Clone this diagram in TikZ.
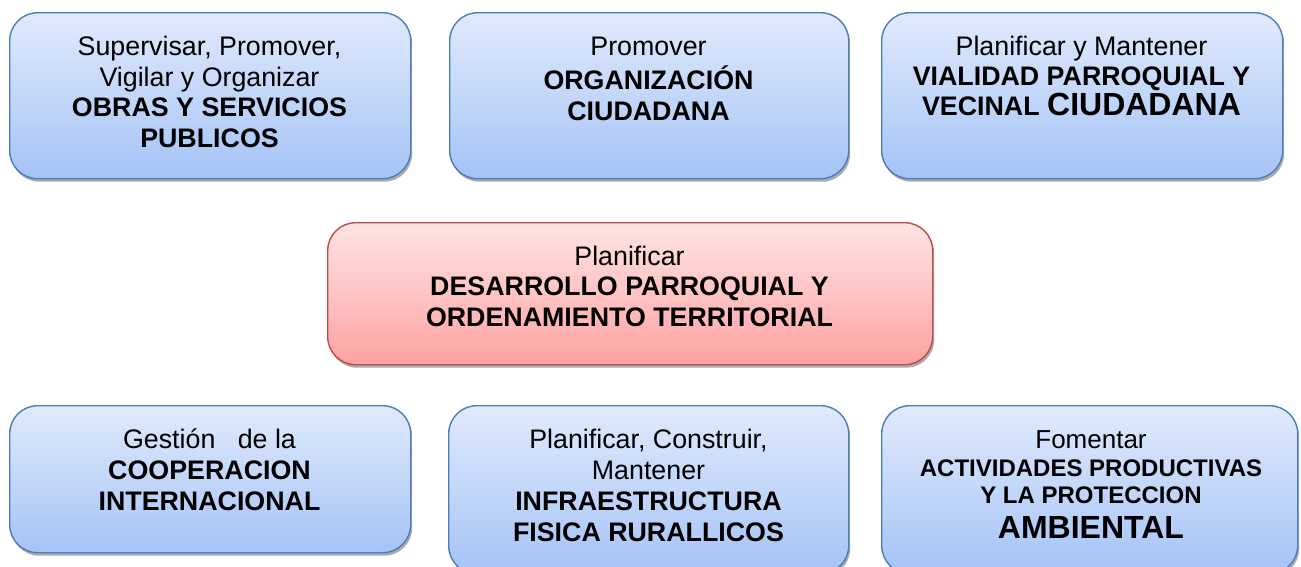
\documentclass[tikz,border=0pt]{standalone}
\usepackage{fontspec}
\setmainfont{Liberation Sans}
\usetikzlibrary{shadows}
\definecolor{bluetop}{HTML}{E0EAFC}
\definecolor{bluebot}{HTML}{A5C3F6}
\definecolor{blueline}{HTML}{4A7EBB}
\definecolor{redtop}{HTML}{FFE4E4}
\definecolor{redbot}{HTML}{FFA2A2}
\definecolor{redline}{HTML}{BE4B48}
\tikzset{
  boxbase/.style={rectangle, rounded corners=28pt, line width=1.4pt, anchor=north west,
    inner sep=0pt, drop shadow={shadow xshift=1.5pt, shadow yshift=-3pt, fill=black!55, opacity=0.6}},
  bluebox/.style={boxbase, draw=blueline, top color=bluetop, bottom color=bluebot},
  redbox/.style={boxbase, draw=redline, top color=redtop, bottom color=redbot},
  label/.style={anchor=north, align=center, inner sep=0pt, text=black}
}
\begin{document}
\begin{tikzpicture}[x=1pt, y=-1pt]
\useasboundingbox (0,0) rectangle (1301,566);
% boxes
\node[bluebox, minimum width=401pt, minimum height=166pt] (b1) at (9,12) {};
\node[bluebox, minimum width=399pt, minimum height=166pt] (b2) at (449,12) {};
\node[bluebox, minimum width=401pt, minimum height=166pt] (b3) at (881,12) {};
\node[redbox, minimum width=605pt, minimum height=142pt] (m) at (327,222) {};
\node[bluebox, minimum width=401pt, minimum height=147pt] (b4) at (9,405) {};
\node[bluebox, minimum width=400pt, minimum height=168pt] (b5) at (448,405) {};
\node[bluebox, minimum width=416pt, minimum height=168pt] (b6) at (881,405) {};
% texts
\node[label, font=\fontsize{26.8}{30.5}\selectfont] (t1) at (209.5,34.2)
  {\strut Supervisar, Promover,\\Vigilar y Organizar\\\textbf{OBRAS Y SERVICIOS}\\\textbf{PUBLICOS}};
\node[label, font=\fontsize{26.8}{30.8}\selectfont] (t2) at (648.5,33.5)
  {\strut Promover\\\textbf{ORGANIZACIÓN}\\\textbf{CIUDADANA}};
\node[label, font=\fontsize{26.8}{30}\selectfont] (t3) at (1081.5,34)
  {\strut Planificar y Mantener\\\textbf{VIALIDAD PARROQUIAL Y}\\\textbf{VECINAL {\fontsize{32}{30}\selectfont CIUDADANA}}};
\node[label, font=\fontsize{26.8}{30.5}\selectfont] (tm) at (629.5,243.6)
  {\strut Planificar\\\textbf{DESARROLLO PARROQUIAL Y}\\\textbf{ORDENAMIENTO TERRITORIAL}};
\node[label, font=\fontsize{26.8}{31}\selectfont] (t4) at (209.5,426.6)
  {\strut Gestión~~~de la\\\textbf{COOPERACION}\\\textbf{INTERNACIONAL}};
\node[label, font=\fontsize{26.8}{31}\selectfont] (t5) at (648.5,426.6)
  {\strut Planificar, Construir,\\Mantener\\\textbf{INFRAESTRUCTURA}\\\textbf{FISICA RURALLICOS}};
\node[label, font=\fontsize{26}{27}\selectfont] (t6) at (1091,429)
  {\strut Fomentar\\[1pt]{\fontsize{24}{27}\selectfont\textbf{ACTIVIDADES PRODUCTIVAS}}\\{\fontsize{24}{27}\selectfont\textbf{Y LA PROTECCION}}\\[8pt]{\fontsize{32}{27}\selectfont\textbf{AMBIENTAL}}};
\end{tikzpicture}
\end{document}
